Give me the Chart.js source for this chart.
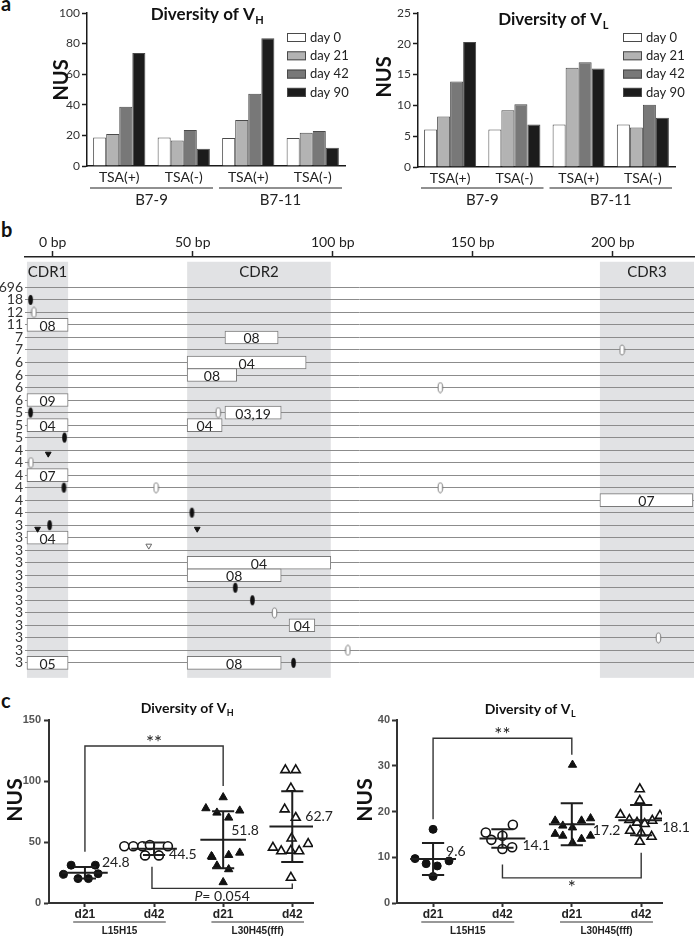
<!DOCTYPE html>
<html>
<head>
<meta charset="utf-8">
<script src="https://cdn.jsdelivr.net/npm/chart.js@4.4.1/dist/chart.umd.min.js"></script>
<style>
  html, body { margin: 0; padding: 0; background: #fff; }
  body { position: relative; width: 700px; height: 940px; overflow: hidden; }
  canvas { position: absolute; }
  .tag { position: absolute; font: bold 20px Lato, sans-serif; line-height: 20px; color: #111; }
</style>
</head>
<body>
<div class="tag" style="left:1px;top:-7px">a</div>
<div class="tag" style="left:1px;top:219px">b</div>
<div class="tag" style="left:1px;top:690px">c</div>
<canvas id="aH" width="350" height="215" style="left:0;top:0"></canvas>
<canvas id="aL" width="350" height="215" style="left:350px;top:0"></canvas>
<canvas id="bMap" width="700" height="470" style="left:0;top:222px"></canvas>
<canvas id="cH" width="350" height="240" style="left:0;top:700px"></canvas>
<canvas id="cL" width="350" height="240" style="left:350px;top:700px"></canvas>
<script>
// ── Panel a: diversidad por día ─────────────────────────────────
const categories = ['TSA(+)', 'TSA(-)', 'TSA(+)', 'TSA(-)'];
const cellLines = ['B7-9', 'B7-11'];
const days = ['day 0', 'day 21', 'day 42', 'day 90'];
const vhDay0 = [18.7, 18.7, 18.3, 18.3];
const vhDay21 = [20.9, 16.7, 30, 21.7];
const vhDay42 = [38.7, 23.5, 47.2, 22.8];
const vhDay90 = [73.9, 11.3, 83.5, 12];
const vlDay0 = [6.1, 6.1, 6.9, 6.9];
const vlDay21 = [8.2, 9.2, 16.1, 6.4];
const vlDay42 = [13.9, 10.2, 17, 10.1];
const vlDay90 = [20.3, 6.9, 16, 8];

// ── Panel b: mapa de mutaciones ─────────────────────────────────
const bpTicks = [0, 50, 100, 150, 200];
const rowCounts = [696, 18, 12, 11, 7, 7, 6, 6, 6, 6, 5, 5, 5, 4, 4, 4, 4, 4, 4, 3, 3, 3, 3, 3, 3, 3, 3, 3, 3, 3, 3];
const cdrNames = ['CDR1', 'CDR2', 'CDR3'];
const cdrFrom = [-9.2, 48, 195.4];
const cdrTo = [5.5, 99.3, 229];
const boxRows = [3, 4, 6, 7, 9, 10, 11, 11, 15, 17, 20, 22, 23, 27, 30, 30];
const boxFrom = [-9.2, 61.5, 48, 48, -9.2, 61.5, -9.2, 48, -9.2, 195.4, -9.2, 48, 48, 84.4, -9.2, 48];
const boxTo = [5.5, 80.5, 90.5, 65.7, 5.5, 81.6, 5.5, 60.5, 5.5, 228.6, 5.5, 99.3, 81.6, 93.6, 5.5, 81.6];
const boxText = ['08', '08', '04', '08', '09', '03,19', '04', '04', '07', '07', '04', '04', '08', '04', '05', '08'];
const filledOvals = [[-7.9, 1], [-7.9, 10], [4.2, 12], [4.0, 16], [49.7, 18], [-1.1, 19], [65.2, 24], [71.3, 25], [86, 30]];
const openOvals = [[-6.7, 2], [203.3, 5], [138.4, 8], [59.1, 10], [-7.8, 14], [36.9, 16], [138.4, 16], [79.2, 26], [216.3, 28], [105.4, 29]];
const filledTris = [[-1.6, 13.3], [-5.4, 19.3], [51.6, 19.3]];
const openTris = [[34.3, 20.65]];

// ── Panel c: NUS por ratón ──────────────────────────────────────
const cxLabels = ['d21', 'd42', 'd21', 'd42'];
const cGroups = ['L15H15', 'L30H45(fff)'];
const vhVals = [
  [31, 31, 23.5, 20, 20, 24],
  [46.5, 46.5, 46.5, 47.5, 46.5, 39, 39],
  [86.6, 77.6, 74, 75.7, 69.9, 38.3, 37.7, 39.3, 41.2, 30.6, 27.6, 17],
  [109, 109, 94, 76.8, 69.9, 45.5, 42.5, 43, 42.5, 48.5, 53, 20.8]
];
const vhOffs = [
  [-0.2, 0.15, -0.31, -0.1, 0.05, 0.19],
  [-0.43, -0.3, -0.17, -0.06, 0.2, -0.13, 0.07],
  [0, -0.25, -0.09, 0.24, 0.08, -0.17, -0.16, 0.08, 0.24, -0.09, 0.08, 0],
  [-0.1, 0.05, -0.02, -0.11, 0.05, -0.28, -0.16, -0.02, 0.1, 0.23, -0.01, -0.02]
];
const vhMeans = [24.8, 44.5, 51.8, 62.7];
const vhSds = [4.7, 5.1, 23.4, 29];
const vhBrX = [[0, 2], [0.97, 3]];
const vhBrY = [[42, 128.7, 96], [29.7, 12, 16]];
const vhBrText = ['**', 'P= 0.054'];

const vlVals = [
  [16.1, 9.7, 8.6, 8.1, 9.2, 5.8],
  [17.1, 15.4, 13.8, 14.7, 11.8, 12.2],
  [30.2, 18, 16.9, 16.5, 18, 18.5, 15.1, 14.7, 13.2, 14, 14.7],
  [24.9, 22.4, 19.3, 18.2, 17.6, 17.3, 18, 19.1, 15.8, 15.3, 14.5, 13.4]
];
const vlOffs = [
  [0, -0.26, -0.1, 0.06, 0.23, 0],
  [0.15, -0.24, -0.16, 0, 0, 0.14],
  [0.01, -0.24, -0.13, 0.01, 0.14, 0.27, -0.24, -0.13, 0.01, 0.14, 0.27],
  [-0.02, -0.02, -0.3, -0.17, -0.06, 0.05, 0.16, 0.27, -0.16, 0, 0.15, -0.02]
];
const vlMeans = [9.6, 14.1, 17.2, 18.1];
const vlSds = [3.5, 2.0, 4.6, 3.3];
const vlBrX = [[0, 2], [1, 3]];
const vlBrY = [[18.3, 36, 32.4], [8.4, 5.5, 11]];
const vlBrText = ['**', '*'];

// ── Ajustes generales ───────────────────────────────────────────
Chart.defaults.font.family = 'Lato, sans-serif';
Chart.defaults.color = '#222';
Chart.defaults.animation = false;
Chart.defaults.responsive = false;
Chart.defaults.plugins.legend.display = false;
Chart.defaults.plugins.tooltip.enabled = false;

const FONT = 'Lato, sans-serif';
const ARIAL = '"Liberation Sans", Arial, sans-serif';

function txt(ctx, s, x, y, font, align = 'center', base = 'middle', color = '#222') {
  ctx.save();
  ctx.font = font; ctx.textAlign = align; ctx.textBaseline = base; ctx.fillStyle = color;
  ctx.fillText(s, x, y);
  ctx.restore();
}
function vtxt(ctx, s, x, y, font) {
  ctx.save(); ctx.translate(x, y); ctx.rotate(-Math.PI / 2);
  txt(ctx, s, 0, 0, font, 'center', 'middle', '#111');
  ctx.restore();
}
function seg(ctx, x1, y1, x2, y2, color, w) {
  ctx.save(); ctx.strokeStyle = color; ctx.lineWidth = w;
  ctx.beginPath(); ctx.moveTo(x1, y1); ctx.lineTo(x2, y2); ctx.stroke();
  ctx.restore();
}
function subTitle(ctx, cx, cy, main, sub, size) {
  ctx.save();
  const f1 = `bold ${size}px ${FONT}`, f2 = `bold ${Math.round(size * 0.62)}px ${FONT}`;
  ctx.font = f1; const w1 = ctx.measureText(main).width;
  ctx.font = f2; const w2 = ctx.measureText(sub).width;
  const x = cx - (w1 + w2) / 2;
  txt(ctx, main, x, cy, f1, 'left', 'middle', '#111');
  txt(ctx, sub, x + w1 + 0.5, cy + size * 0.33, f2, 'left', 'middle', '#111');
  ctx.restore();
}

// ── Gráficos de barras (a) ──────────────────────────────────────
const dayColors = ['#ffffff', '#b3b3b3', '#787878', '#1c1c1c'];
function barPanel(id, series, yMax, yStep, cfg) {
  return new Chart(document.getElementById(id), {
    type: 'bar',
    data: {
      labels: categories,
      datasets: series.map((d, i) => ({
        label: days[i], data: d, backgroundColor: dayColors[i],
        borderColor: '#4a4a4a', borderWidth: 1, barPercentage: 1, categoryPercentage: 0.81
      }))
    },
    options: {
      layout: { padding: { top: 13, right: cfg.padRight, left: 0, bottom: 0 } },
      scales: {
        x: {
          grid: { display: false, drawTicks: false },
          border: { color: '#1a1a1a', width: 1.5 },
          ticks: { font: { size: 14 }, color: '#222', padding: 3 },
          afterFit: s => { s.height = cfg.xH; }
        },
        y: {
          min: 0, max: yMax,
          ticks: { stepSize: yStep, font: { size: 12 }, color: '#333', padding: 2 },
          grid: { drawOnChartArea: false, tickLength: 5, tickColor: '#1a1a1a', tickWidth: 1.5 },
          border: { color: '#1a1a1a', width: 1.5 },
          afterFit: s => { s.width = cfg.yW; }
        }
      }
    },
    plugins: [{
      id: 'deco',
      afterDraw(chart) {
        const ctx = chart.ctx, a = chart.chartArea, xs = chart.scales.x;
        const cw = (a.right - a.left) / categories.length;
        cellLines.forEach((g, gi) => {
          const l = xs.getPixelForValue(gi * 2) - cw / 2 + 3;
          const r = xs.getPixelForValue(gi * 2 + 1) + cw / 2 - 3;
          seg(ctx, l, 188, r, 188, '#222', 1.2);
          txt(ctx, g, (l + r) / 2, 200, `15px ${FONT}`);
        });
        chart.data.datasets.forEach((ds, i) => {
          const bx = a.right - cfg.legendDx, by = 33 + i * 18.3;
          ctx.fillStyle = ds.backgroundColor; ctx.fillRect(bx, by, 19, 9);
          ctx.strokeStyle = '#4a4a4a'; ctx.lineWidth = 1; ctx.strokeRect(bx + 0.5, by + 0.5, 18, 8);
          txt(ctx, ds.label, bx + 23, by + 4.5, `13px ${FONT}`, 'left');
        });
        subTitle(ctx, cfg.titleX, cfg.titleY, 'Diversity of V', cfg.sub, 17);
        vtxt(ctx, 'NUS', cfg.nusX, cfg.nusY, `bold 20px ${FONT}`);
      }
    }]
  });
}
barPanel('aH', [vhDay0, vhDay21, vhDay42, vhDay90], 100, 20,
  { padRight: 5, xH: 49, yW: 87, legendDx: 58, titleX: 207, titleY: 15, sub: 'H', nusX: 62, nusY: 80 });
barPanel('aL', [vlDay0, vlDay21, vlDay42, vlDay90], 25, 5,
  { padRight: 25, xH: 48, yW: 68, legendDx: 52, titleX: 203, titleY: 20, sub: 'L', nusX: 35, nusY: 77 });

// ── Mapa (b) ─────────────────────────────────────────────────────
function ovalIcon(fill, stroke) {
  const c = document.createElement('canvas'); c.width = 7; c.height = 12;
  const g = c.getContext('2d');
  g.beginPath(); g.ellipse(3.5, 6, 2.3, 5, 0, 0, Math.PI * 2);
  g.fillStyle = fill; g.fill();
  if (stroke) { g.strokeStyle = stroke; g.lineWidth = 1; g.stroke(); }
  return c;
}
const toXY = arr => arr.map(([x, y]) => ({ x, y }));
const shadeRows = [-2.05, 31.2];
const cdrLabelRow = -1.2;

new Chart(document.getElementById('bMap'), {
  type: 'scatter',
  data: {
    datasets: [
      { data: toXY(filledOvals), pointStyle: ovalIcon('#111', null), pointRadius: 5 },
      { data: toXY(openOvals), pointStyle: ovalIcon('#fff', '#777'), pointRadius: 5 },
      { data: toXY(filledTris), pointStyle: 'triangle', rotation: 180, pointRadius: 3.3,
        backgroundColor: '#111', borderColor: '#111', borderWidth: 1 },
      { data: toXY(openTris), pointStyle: 'triangle', rotation: 180, pointRadius: 3.3,
        backgroundColor: '#fff', borderColor: '#666', borderWidth: 1 },
      {
        type: 'bar', indexAxis: 'y',
        data: boxRows.map((r, i) => ({ x: [boxFrom[i], boxTo[i]], y: r })),
        backgroundColor: '#fff', borderColor: '#7a7a7a', borderWidth: 1,
        borderSkipped: false, barThickness: 13, grouped: false
      }
    ]
  },
  options: {
    layout: { padding: { top: 0, right: 0, left: 0, bottom: 3 } },
    scales: {
      x: {
        type: 'linear', position: 'top', min: -9.9, max: 229, offset: false,
        afterBuildTicks: s => { s.ticks = bpTicks.map(v => ({ value: v })); },
        ticks: { callback: v => v + ' bp', font: { size: 14 }, color: '#222', padding: 0 },
        grid: { drawOnChartArea: false, tickLength: 6, tickColor: '#222', tickWidth: 1.5 },
        border: { color: '#222', width: 1.5 },
        afterFit: s => { s.height = 35; }
      },
      y: {
        type: 'linear', reverse: true, min: -2.43, max: 31.5, offset: false,
        afterBuildTicks: s => { s.ticks = rowCounts.map((_, i) => ({ value: i })); },
        ticks: { callback: v => rowCounts[v], autoSkip: false, font: { size: 14 }, color: '#333', padding: 2 },
        grid: { color: '#8c8c8c', lineWidth: 1, drawTicks: false, offset: false },
        border: { display: false },
        afterFit: s => { s.width = 25; }
      }
    }
  },
  plugins: [{
    id: 'cdr',
    beforeDraw(chart) {
      const ctx = chart.ctx, xs = chart.scales.x, ys = chart.scales.y, a = chart.chartArea;
      ctx.save();
      ctx.fillStyle = '#e1e2e4';
      cdrFrom.forEach((f, i) => {
        const l = Math.max(xs.getPixelForValue(f), a.left);
        const r = Math.min(xs.getPixelForValue(cdrTo[i]), a.right);
        const t = ys.getPixelForValue(shadeRows[0]), b = ys.getPixelForValue(shadeRows[1]);
        ctx.fillRect(l, t, r - l, b - t);
      });
      ctx.restore();
    },
    afterDraw(chart) {
      const ctx = chart.ctx, xs = chart.scales.x, ys = chart.scales.y;
      cdrNames.forEach((n, i) => {
        txt(ctx, n, xs.getPixelForValue((cdrFrom[i] + cdrTo[i]) / 2), ys.getPixelForValue(cdrLabelRow), `15px ${FONT}`);
      });
      const meta = chart.getDatasetMeta(4);
      meta.data.forEach((el, i) => {
        txt(ctx, boxText[i], (el.x + el.base) / 2, el.y + 1.5, `14px ${FONT}`);
      });
    }
  }]
});

// ── Dispersión (c) ───────────────────────────────────────────────
const markStyles = [
  { pointStyle: 'circle', pointRadius: 4, backgroundColor: '#111', borderColor: '#111', borderWidth: 1 },
  { pointStyle: 'circle', pointRadius: 4.5, backgroundColor: '#fff', borderColor: '#111', borderWidth: 1.6 },
  { pointStyle: 'triangle', pointRadius: 4.8, backgroundColor: '#111', borderColor: '#111', borderWidth: 1 },
  { pointStyle: 'triangle', pointRadius: 5.2, backgroundColor: '#fff', borderColor: '#111', borderWidth: 1.6 }
];
function errorSegments(means, sds) {
  const pts = [];
  means.forEach((m, i) => {
    const s = sds[i];
    pts.push({ x: i - 0.33, y: m }, { x: i + 0.33, y: m }, { x: i, y: null });
    pts.push({ x: i, y: m - s }, { x: i, y: m + s }, { x: i, y: null });
    pts.push({ x: i - 0.16, y: m + s }, { x: i + 0.16, y: m + s }, { x: i, y: null });
    pts.push({ x: i - 0.16, y: m - s }, { x: i + 0.16, y: m - s }, { x: i, y: null });
  });
  return pts;
}
function bracketSegments(bx, by) {
  const pts = [];
  bx.forEach(([x0, x1], i) => {
    const [ya, yt, yb] = by[i];
    pts.push({ x: x0, y: ya }, { x: x0, y: yt }, { x: x1, y: yt }, { x: x1, y: yb }, { x: x0, y: null });
  });
  return pts;
}
function dotPanel(id, vals, offs, means, sds, brX, brY, brText, yMax, yStep, cfg) {
  const datasets = vals.map((v, g) => Object.assign({
    data: v.map((y, k) => ({ x: g + offs[g][k], y }))
  }, markStyles[g]));
  datasets.unshift({
    type: 'line', data: errorSegments(means, sds), borderColor: '#1e1e1e', borderWidth: 2,
    pointRadius: 0, spanGaps: false, fill: false
  });
  datasets.push({
    type: 'line', data: bracketSegments(brX, brY), borderColor: '#333', borderWidth: 1.4,
    pointRadius: 0, spanGaps: false, fill: false
  });
  return new Chart(document.getElementById(id), {
    type: 'scatter',
    data: { datasets },
    options: {
      layout: { padding: { top: 20, right: cfg.padRight, left: 0, bottom: 0 } },
      scales: {
        x: {
          type: 'linear', min: -0.52, max: 3.3,
          afterBuildTicks: s => { s.ticks = cxLabels.map((_, i) => ({ value: i })); },
          ticks: { callback: v => cxLabels[v], font: { family: ARIAL, size: 12, weight: 'bold' }, color: '#222', padding: 0 },
          grid: { drawOnChartArea: false, tickLength: 4, tickColor: '#333', tickWidth: 2 },
          border: { color: '#333', width: 2 },
          afterFit: s => { s.height = 37; }
        },
        y: {
          min: 0, max: yMax,
          ticks: { stepSize: yStep, font: { family: ARIAL, size: 11, weight: 'bold' }, color: '#555', padding: cfg.tickPad },
          grid: { drawOnChartArea: false, tickLength: 5, tickColor: '#333', tickWidth: 2 },
          border: { color: '#333', width: 2 },
          afterFit: s => { s.width = cfg.yW; }
        }
      }
    },
    plugins: [{
      id: 'notes',
      afterDraw(chart) {
        const ctx = chart.ctx, xs = chart.scales.x, ys = chart.scales.y;
        means.forEach((m, i) => {
          const [dx, dy] = cfg.meanOff[i];
          txt(ctx, m.toFixed(1), xs.getPixelForValue(i) + dx, ys.getPixelForValue(m) + dy, `14px ${FONT}`, 'left');
        });
        brX.forEach(([x0, x1], i) => {
          const [ya, yt] = brY[i];
          const cx = xs.getPixelForValue((x0 + x1) / 2), py = ys.getPixelForValue(yt);
          const label = brText[i];
          if (yt > ya) {
            txt(ctx, label, cx, py + 3, `19px ${FONT}`, 'center', 'alphabetic');
          } else if (label.startsWith('P=')) {
            const rest = label.slice(1);
            ctx.save();
            ctx.font = `italic 14px ${FONT}`; const wP = ctx.measureText('P').width;
            ctx.font = `14px ${FONT}`; const wR = ctx.measureText(rest).width;
            const x = cx - (wP + wR) / 2;
            ctx.restore();
            txt(ctx, 'P', x, py + 1, `italic 14px ${FONT}`, 'left', 'top');
            txt(ctx, rest, x + wP, py + 1, `14px ${FONT}`, 'left', 'top');
          } else {
            txt(ctx, label, cx, py + 1, `19px ${FONT}`, 'center', 'top');
          }
        });
        cGroups.forEach((g, gi) => {
          const c = gi * 2 + 0.5;
          const l = xs.getPixelForValue(c - 0.67), r = xs.getPixelForValue(c + 0.67);
          seg(ctx, l, 222, r, 222, '#333', 1.2);
          txt(ctx, g, (l + r) / 2, 231, `bold 10px ${ARIAL}`);
        });
        subTitle(ctx, cfg.titleX, cfg.titleY, 'Diversity of V', cfg.sub, 14);
        vtxt(ctx, 'NUS', 15, 100, `bold 21px ${FONT}`);
      }
    }]
  });
}
dotPanel('cH', vhVals, vhOffs, vhMeans, vhSds, vhBrX, vhBrY, vhBrText, 150, 50,
  { padRight: 37, yW: 49, tickPad: 3, titleX: 187, titleY: 8, sub: 'H',
    meanOff: [[17, -10], [15, 6], [8, -9], [13, -10]] });
dotPanel('cL', vlVals, vlOffs, vlMeans, vlSds, vlBrX, vlBrY, vlBrText, 40, 10,
  { padRight: 38, yW: 47, tickPad: 2, titleX: 180, titleY: 9, sub: 'L',
    meanOff: [[13, -8], [20, 7], [21, 6.5], [21, 7]] });
</script>
</body>
</html>
